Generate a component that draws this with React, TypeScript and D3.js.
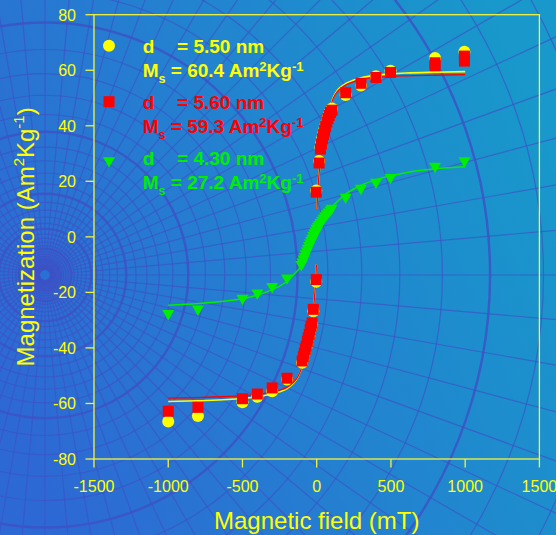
import React from 'react';
import * as d3 from 'd3';

const W = 556;
const H = 535;

const X_TICKS = [-1500, -1000, -500, 0, 500, 1000, 1500];
const Y_TICKS = [-80, -60, -40, -20, 0, 20, 40, 60, 80];

// Sample A (d = 5.50 nm): [field mT, magnetization Am2/kg]
const sampleA: [number, number][] = [
  [-1000, -66.5], [-800, -64.5], [-500, -59.6], [-400, -57.6], [-300, -55.6], [-200, -51.4],
  [-98, -45.3], [-90, -43.8], [-84, -42.5], [-77, -41.1], [-70, -39.9], [-63, -38.2],
  [-57, -37.0], [-50, -35.7], [-44, -34.0], [-38, -32.8], [-31, -31.6], [-23, -26.8], [-3, -16.2],
  [-3, 16.7], [16, 27.3], [25, 32.2], [32, 34.0], [39, 35.9], [46, 37.4], [53, 39.0],
  [60, 40.3], [68, 41.9], [76, 43.2], [84, 44.3], [93, 45.4], [103, 46.2],
  [195, 51.1], [298, 54.5], [399, 57.8], [497, 59.8], [797, 64.4], [995, 66.7],
];

// Sample B (d = 5.60 nm)
const sampleB: [number, number][] = [
  [-1000, -62.8], [-800, -61.4], [-500, -58.3], [-400, -56.6], [-300, -54.4], [-200, -50.9],
  [-98, -44.7], [-90, -43.2], [-84, -41.9], [-77, -40.5], [-70, -39.3], [-63, -37.6],
  [-57, -36.4], [-50, -35.1], [-44, -33.4], [-38, -32.2], [-31, -31.0], [-23, -26.1], [-3, -15.4],
  [-3, 16.1], [16, 26.6], [25, 31.6], [32, 33.4], [39, 35.3], [46, 36.8], [53, 38.4],
  [60, 39.7], [68, 41.3], [76, 42.6], [84, 43.7], [93, 44.8], [103, 45.6],
  [195, 51.9], [298, 55.3], [399, 57.4], [497, 59.2], [797, 61.7], [797, 62.7], [995, 63.3], [995, 65.1],
];

// Sample C (d = 4.30 nm)
const sampleC: [number, number][] = [
  [-1000, -27.6], [-800, -26.0], [-500, -22.1], [-400, -20.2], [-300, -17.9], [-200, -14.8],
  [-104, -9.9], [-97, -9.0], [-89, -8.0], [-82, -7.0], [-75, -6.1], [-67, -5.1], [-60, -4.1],
  [-52, -3.1], [-45, -2.2], [-38, -1.3], [-31, -0.5], [-24, 0.5], [-16, 1.4], [-9, 2.2],
  [-1, 3.1], [7, 3.8], [16, 4.5], [25, 5.2], [35, 6.0], [46, 6.8], [57, 7.6], [68, 8.3],
  [80, 9.0], [92, 9.7], [100, 10.3],
  [195, 14.3], [298, 17.5], [399, 19.7], [497, 21.4], [797, 25.4], [995, 27.4],
];

// Fitted magnetization curves, two branches each for A and B
const fitANeg: [number, number][] = [
  [-1000, -59.3], [-800, -59.0], [-600, -58.6], [-500, -58.2], [-400, -57.6], [-300, -56.6],
  [-250, -55.8], [-200, -54.6], [-160, -52.9], [-130, -50.8], [-110, -48.5], [-95, -46.1],
  [-80, -42.6], [-65, -39.0], [-50, -35.4], [-35, -31.4], [-23, -26.5], [-12, -20.0], [-5, -14.0], [-2, -10.0],
];
const fitAPos: [number, number][] = [
  [2, 10.0], [5, 14.0], [12, 20.0], [23, 26.5], [35, 31.6], [50, 36.2], [65, 40.2],
  [80, 44.2], [95, 47.6], [115, 50.6], [140, 52.8], [170, 54.3], [200, 55.3], [250, 56.5],
  [300, 57.3], [400, 58.2], [500, 58.7], [600, 59.0], [800, 59.3], [1000, 59.5],
];
const fitBNeg: [number, number][] = [
  [-1000, -58.1], [-800, -57.9], [-600, -57.5], [-500, -57.2], [-400, -56.7], [-300, -55.9],
  [-250, -55.2], [-200, -54.2], [-160, -52.6], [-130, -50.6], [-110, -48.4], [-95, -46.0],
  [-80, -42.5], [-65, -39.0], [-50, -35.5], [-35, -31.5], [-23, -26.5], [-12, -20.0], [-5, -14.0], [-2, -10.0],
];
const fitBPos: [number, number][] = [
  [2, 10.0], [5, 14.0], [12, 20.0], [23, 26.5], [35, 31.5], [50, 36.0], [65, 40.0],
  [80, 44.0], [95, 47.4], [115, 50.3], [140, 52.4], [170, 53.8], [200, 54.8], [250, 55.9],
  [300, 56.6], [400, 57.4], [500, 57.8], [600, 58.0], [800, 58.2], [1000, 58.4],
];
const fitC: [number, number][] = [
  [-1000, -24.6], [-800, -24.0], [-600, -23.0], [-500, -22.3], [-400, -21.0], [-300, -19.0],
  [-200, -16.0], [-150, -13.3], [-100, -10.3], [-50, -5.3], [0, 0], [50, 5.3], [100, 10.5],
  [150, 13.3], [200, 15.6], [300, 18.6], [400, 20.6], [500, 22.0], [600, 23.1], [800, 24.5], [1000, 25.2],
];

const diameters = ['5.50', '5.60', '4.30'];
const saturations = ['60.4', '59.3', '27.2'];

const YELLOW = '#ffff00';
const RED = '#ff0000';
const GREEN = '#00ee00';
const AXIS = '#f4f43c';
const FONT = "'Liberation Sans', Arial, Helvetica, sans-serif";

function BackgroundGrid() {
  const cx = 45;
  const cy = 275;
  const rings: number[] = [];
  for (let k = 0; k < 60; k++) {
    const r = 6 * Math.pow(1.12, k);
    if (r > 1000) break;
    rings.push(r);
  }
  const spokes = d3.range(0, 360, 5);
  return (
    <g stroke="#3d52c6" fill="none">
      {rings.map((r, i) => (
        <circle key={'r' + i} cx={cx} cy={cy} r={r}
          strokeWidth={i % 5 === 3 ? 2.4 : 1.2} strokeOpacity={i % 5 === 3 ? 0.85 : 0.7} />
      ))}
      {spokes.map((a) => {
        const t = (a * Math.PI) / 180;
        return (
          <line key={'s' + a} x1={cx + 5 * Math.cos(t)} y1={cy + 5 * Math.sin(t)}
            x2={cx + 1000 * Math.cos(t)} y2={cy + 1000 * Math.sin(t)}
            strokeWidth={1.2} strokeOpacity={0.7} />
        );
      })}
    </g>
  );
}

export default function App() {
  const x = d3.scaleLinear().domain([-1500, 1500]).range([94, 539.4]);
  const y = d3.scaleLinear().domain([-80, 80]).range([459, 14.7]);
  const line = d3
    .line<[number, number]>()
    .x((d) => x(d[0]))
    .y((d) => y(d[1]))
    .curve(d3.curveMonotoneX);

  const sq = d3.symbol().type(d3.symbolSquare).size(121)() as string;
  const tri = d3.symbol().type(d3.symbolTriangle).size(62)() as string;

  const [x0, x1] = x.range();
  const [y0, y1] = y.range();

  const legendColors = [YELLOW, RED, GREEN];
  const legendTop = 53.3;
  const groupGap = 56;
  const lineGap = 23.4;

  return (
    <svg width={W} height={H} style={{ position: 'absolute', left: 0, top: 0 }} fontFamily={FONT}>
      <defs>
        <linearGradient id="bgFill" x1="0" y1="0.7" x2="1" y2="0.3">
          <stop offset="0" stopColor="#2d69d4" />
          <stop offset="0.5" stopColor="#2382d0" />
          <stop offset="1" stopColor="#1898cb" />
        </linearGradient>
        <clipPath id="page">
          <rect x={0} y={0} width={W} height={H} />
        </clipPath>
      </defs>
      <rect x={0} y={0} width={W} height={H} fill="url(#bgFill)" />
      <g clipPath="url(#page)">
        <BackgroundGrid />
      </g>

      {/* frame */}
      <rect x={x0} y={y1} width={x1 - x0} height={y0 - y1} fill="none" stroke={AXIS} strokeWidth={1.3} />

      {/* x axis */}
      {X_TICKS.map((t) => (
        <g key={'x' + t}>
          <line x1={x(t)} x2={x(t)} y1={y0} y2={y0 + 8.5} stroke={AXIS} strokeWidth={1.3} />
          <text x={x(t)} y={491.7} fill={YELLOW} fontSize={16} textAnchor="middle">{t}</text>
        </g>
      ))}
      {/* y axis */}
      {Y_TICKS.map((t) => (
        <g key={'y' + t}>
          <line x1={x0 - 8.5} x2={x0} y1={y(t)} y2={y(t)} stroke={AXIS} strokeWidth={1.3} />
          <text x={76} y={y(t) + 5.8} fill={YELLOW} fontSize={16} textAnchor="end">{t}</text>
        </g>
      ))}

      <text x={x(0)} y={529.3} fill={YELLOW} fontSize={24} textAnchor="middle">Magnetic field (mT)</text>
      <text transform={`translate(34.3,${y(0)}) rotate(-90)`} fill={YELLOW} fontSize={24} textAnchor="middle">
        <tspan>Magnetization (Am</tspan>
        <tspan fontSize={15} dy={-10}>2</tspan>
        <tspan dy={10}>Kg</tspan>
        <tspan fontSize={15} dy={-10}>-1</tspan>
        <tspan dy={10}>)</tspan>
      </text>

      {/* fitted curves */}
      <g fill="none">
        <path d={line(fitANeg) as string} stroke={YELLOW} strokeWidth={1.6} />
        <path d={line(fitAPos) as string} stroke={YELLOW} strokeWidth={1.6} />
        <path d={line(fitBNeg) as string} stroke={RED} strokeWidth={1.3} />
        <path d={line(fitBPos) as string} stroke={RED} strokeWidth={1.3} />
        <path d={line(fitC) as string} stroke={GREEN} strokeWidth={1.5} />
      </g>

      {/* measured points */}
      <g fill={YELLOW}>
        {sampleA.map((d, i) => (
          <circle key={'a' + i} cx={x(d[0])} cy={y(d[1])} r={6} />
        ))}
      </g>
      <g fill={RED}>
        {sampleB.map((d, i) => (
          <path key={'b' + i} d={sq} transform={`translate(${x(d[0])},${y(d[1])})`} />
        ))}
      </g>
      <g fill={GREEN}>
        {sampleC.map((d, i) => (
          <path key={'c' + i} d={tri} transform={`translate(${x(d[0])},${y(d[1])}) rotate(180)`} />
        ))}
      </g>

      {/* legend */}
      <g fontWeight="bold" fontSize={19}>
        {diameters.map((dv, i) => {
          const base = legendTop + i * groupGap;
          const c = legendColors[i];
          const my = base - 7.6;
          return (
            <g key={'lg' + i} fill={c}>
              {i === 0 && <circle cx={109} cy={my} r={6} />}
              {i === 1 && <path d={sq} transform={`translate(109,${my})`} />}
              {i === 2 && <path d={tri} transform={`translate(109,${my + 3})rotate(180)`} />}
              <text x={142.7} y={base}>d</text>
              <text x={177} y={base}>= {dv} nm</text>
              <text x={142.7} y={base + lineGap}>
                <tspan>M</tspan>
                <tspan fontSize={12.5} dy={6.6}>s</tspan>
                <tspan dy={-6.6}> = {saturations[i]} Am</tspan>
                <tspan fontSize={13} dy={-5.5}>2</tspan>
                <tspan dy={5.5}>Kg</tspan>
                <tspan fontSize={13} dy={-5.5}>-1</tspan>
              </text>
            </g>
          );
        })}
      </g>
    </svg>
  );
}
